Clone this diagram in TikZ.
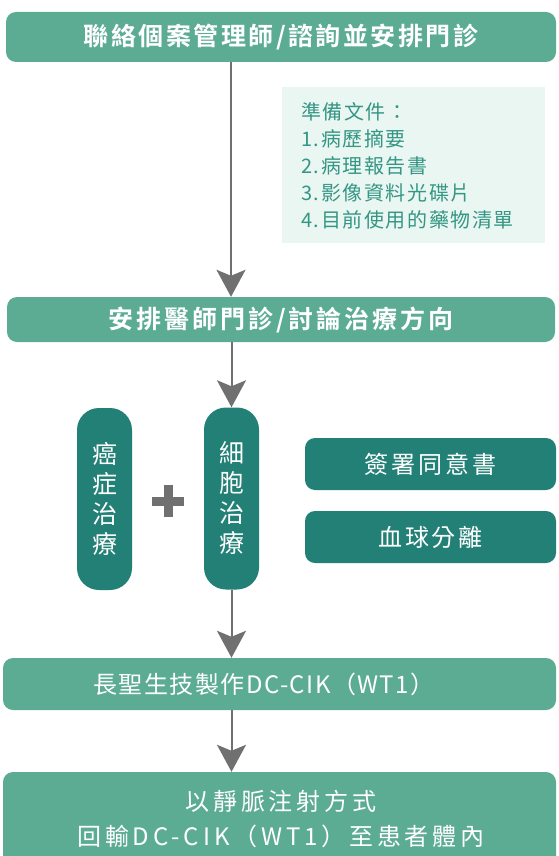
\documentclass[tikz,border=0pt]{standalone}
\usepackage{fontspec}
\newfontfamily\cjk{Noto Sans CJK TC}
\newfontfamily\cjkb{Noto Sans CJK TC Bold}
\usetikzlibrary{arrows.meta}
\definecolor{lightg}{RGB}{92,172,148}
\definecolor{darkt}{RGB}{34,128,118}
\definecolor{notebg}{RGB}{234,246,241}
\definecolor{notetx}{RGB}{52,150,132}
\definecolor{arrg}{RGB}{112,112,112}
\tikzset{
  wbox/.style={rectangle, rounded corners=10pt, fill=lightg, draw=none, text=white, align=center, inner sep=0pt},
  tbox/.style={rectangle, rounded corners=10pt, fill=darkt, draw=none, text=white, align=center, inner sep=0pt},
  pill/.style={rectangle, rounded corners=22pt, fill=darkt, draw=none, text=white, align=center, inner sep=0pt, minimum width=55pt, minimum height=182pt, font={\cjk\fontsize{25}{30}\selectfont}},
  arr/.style={draw=arrg, line width=2pt, -{Stealth[length=27pt, width=29pt, inset=6pt]}},
}
\begin{document}
\begin{tikzpicture}[x=1pt,y=-1pt]
\fill[white] (0,0) rectangle (558,856);
\useasboundingbox (0,0) rectangle (558,856);
\begin{scope}
\clip (0,0) rectangle (558,856);
\node[wbox, minimum width=550pt, minimum height=50pt, font={\cjkb\fontsize{25}{30}\selectfont\addfontfeatures{LetterSpace=10}}] (b1) at (281,37)
  {聯絡個案管理師/諮詢並安排門診};
\node[rectangle, fill=notebg, minimum width=263pt, minimum height=155pt, inner sep=0pt] (notes) at (413,165) {};
\node[anchor=north west, align=left, text=notetx, inner sep=0pt, font={\cjk\fontsize{20}{27}\selectfont\addfontfeatures{LetterSpace=8}}] (notetext) at (301,102)
  {準備文件：\\1.病歷摘要\\2.病理報告書\\3.影像資料光碟片\\4.目前使用的藥物清單};
\node[wbox, minimum width=548pt, minimum height=45pt, font={\cjkb\fontsize{25}{30}\selectfont\addfontfeatures{LetterSpace=12}}] (b2) at (281,319.5)
  {安排醫師門診/討論治療方向};
\node[pill] (pl) at (104.5,499) {癌\\症\\治\\療};
\node[pill] (pr) at (231.5,498.5) {細\\胞\\治\\療};
\node[inner sep=0pt, minimum size=32pt] (plus) at (168,501) {};
\fill[arrg] (163.5,485) rectangle (172.5,517);
\fill[arrg] (152,496.5) rectangle (184,505.5);
\node[tbox, minimum width=251pt, minimum height=52pt, font={\cjk\fontsize{24}{28}\selectfont\addfontfeatures{LetterSpace=12}}] (sign) at (430.5,464)
  {簽署同意書};
\node[tbox, minimum width=251pt, minimum height=52pt, font={\cjk\fontsize{24}{28}\selectfont\addfontfeatures{LetterSpace=12}}] (blood) at (430.5,537)
  {血球分離};
\node[wbox, minimum width=553pt, minimum height=52pt] (b4) at (279.5,684) {};
\node[text=white, inner sep=0pt, font={\cjk\fontsize{24}{28}\selectfont\addfontfeatures{LetterSpace=6}}] (b4text) at (264,684)
  {長聖生技製作DC-CIK（WT1）};
\node[wbox, minimum width=553pt, minimum height=96pt] (b5) at (279.5,820) {};
\node[text=white, align=center, inner sep=0pt, font={\cjk\fontsize{24}{35}\selectfont\addfontfeatures{LetterSpace=16}}] (b5text) at (281,819)
  {以靜脈注射方式\\回輸DC-CIK（WT1）至患者體內};
\draw[arr] (b1.south -| 231,0) -- (b2.north -| 231,0);
\draw[arr] (b2.south -| pr.center) -- (pr.north);
\draw[arr] (pr.south) -- (b4.north -| pr.center);
\draw[arr] (b4.south -| pr.center) -- (b5.north -| pr.center);
\end{scope}
\end{tikzpicture}
\end{document}
